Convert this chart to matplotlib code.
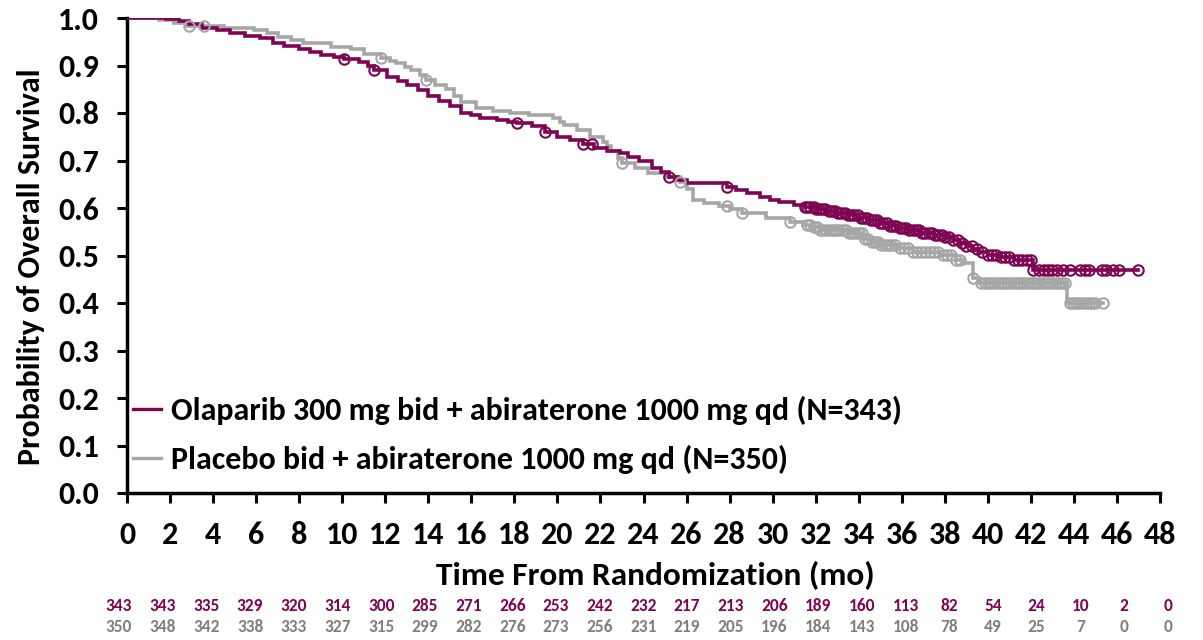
import numpy as np
import matplotlib
matplotlib.use("Agg")
import matplotlib.pyplot as plt

plt.rcParams['font.family'] = ['Carlito', 'Open Sans', 'DejaVu Sans']

# ---------------- data ----------------
ola_label = "Olaparib 300 mg bid + abiraterone 1000 mg qd (N=343)"
pla_label = "Placebo bid + abiraterone 1000 mg qd (N=350)"

ola_t = [0, 1.8, 2.4, 2.9, 3.5, 4.2, 4.8, 5.5, 6.2, 6.8, 7.3, 8.0, 8.5, 9.0, 9.6, 10.1,
         10.8, 11.2, 11.5, 12.1, 12.6, 13.0, 13.5, 14.0, 14.5, 15.0, 15.5, 16.0, 16.4,
         17.2, 17.7, 18.1, 18.8, 19.4, 20.0, 20.6, 21.2, 21.7, 22.3, 22.9, 23.3, 23.8,
         24.4, 24.8, 25.2, 25.6, 26.0, 27.9, 28.3, 28.8, 29.4, 29.9, 30.3, 31.0, 31.5,
         32.0, 32.5, 33.0, 33.5, 34.0, 34.5, 35.0, 35.4, 35.8, 36.3, 36.9, 37.5, 38.0,
         38.4, 38.7, 39.0, 39.3, 39.6, 40.0, 40.5, 41.2, 42.1]
ola_s = [1.0, 0.997, 0.993, 0.988, 0.98, 0.975, 0.968, 0.962, 0.958, 0.948, 0.942, 0.935,
         0.929, 0.922, 0.918, 0.914, 0.907, 0.9, 0.89, 0.876, 0.868, 0.86, 0.848, 0.835,
         0.825, 0.815, 0.80, 0.795, 0.79, 0.785, 0.782, 0.78, 0.772, 0.76, 0.75, 0.743,
         0.735, 0.726, 0.72, 0.715, 0.708, 0.698, 0.684, 0.675, 0.665, 0.658, 0.652,
         0.645, 0.638, 0.632, 0.623, 0.617, 0.612, 0.606, 0.602, 0.598, 0.594, 0.589,
         0.585, 0.58, 0.575, 0.568, 0.563, 0.558, 0.553, 0.547, 0.543, 0.54, 0.533,
         0.527, 0.52, 0.513, 0.507, 0.502, 0.497, 0.49, 0.469]
ola_end = 47.0
ola_cens = [10.1, 11.5, 18.1, 19.4, 21.2, 21.6, 25.2, 27.9,
            31.5, 31.6, 31.75, 31.9, 32.0, 32.15, 32.3, 32.45, 32.6, 32.75, 32.9,
            33.05, 33.2, 33.35, 33.5, 33.65, 33.8, 33.95, 34.1, 34.25, 34.4, 34.55,
            34.7, 34.85, 35.0, 35.15, 35.3, 35.45, 35.6, 35.75, 35.9, 36.05, 36.2,
            36.35, 36.5, 36.65, 36.8, 36.95, 37.1, 37.25, 37.4, 37.55, 37.7, 37.85,
            38.0, 38.2, 38.4, 38.6, 38.8, 39.0, 39.25, 39.5, 39.75, 40.0, 40.2, 40.4,
            40.6, 40.8, 41.0, 41.2, 41.4, 41.6, 41.8, 42.0,
            42.1, 42.4, 42.6, 42.8, 43.0, 43.2, 43.5, 43.8, 44.3, 44.5, 44.7, 45.3,
            45.5, 45.8, 46.1, 47.0]

pla_t = [0, 1.5, 2.2, 2.8, 4.5, 5.9, 6.5, 7.0, 7.6, 8.2, 9.5, 10.4, 11.0, 11.8, 12.2,
         12.5, 12.9, 13.2, 13.6, 13.9, 14.3, 14.8, 15.2, 15.5, 16.2, 17.0, 17.8, 18.7,
         19.8, 20.1, 20.3, 20.9, 21.5, 22.1, 22.3, 22.5, 22.8, 23.0, 23.6, 24.2, 25.0,
         25.7, 26.0, 26.3, 26.8, 27.5, 28.0, 28.6, 29.7, 30.8, 31.4, 31.8, 32.2, 33.5,
         34.2, 34.6, 35.0, 35.8, 36.5, 37.8, 38.5, 38.9, 39.3, 39.6, 43.7]
pla_s = [1.0, 0.995, 0.99, 0.983, 0.978, 0.975, 0.968, 0.96, 0.953, 0.947, 0.94, 0.935,
         0.925, 0.916, 0.91, 0.905, 0.897, 0.89, 0.88, 0.87, 0.86, 0.85, 0.835, 0.823,
         0.81, 0.805, 0.80, 0.795, 0.79, 0.782, 0.775, 0.764, 0.75, 0.739, 0.73, 0.72,
         0.705, 0.695, 0.685, 0.674, 0.665, 0.655, 0.64, 0.617, 0.61, 0.605, 0.598,
         0.59, 0.58, 0.571, 0.565, 0.56, 0.554, 0.547, 0.535, 0.528, 0.522, 0.515,
         0.507, 0.501, 0.49, 0.484, 0.453, 0.442, 0.40]
pla_end = 45.35
pla_cens = [2.9, 3.6, 11.8, 13.9, 23.0, 25.7, 27.9, 28.6, 30.8,
            31.6, 31.75, 31.9, 32.05, 32.2, 32.35, 32.5, 32.65, 32.8, 32.95, 33.1,
            33.25, 33.4, 33.55, 33.7, 33.85, 34.0, 34.15, 34.3, 34.45, 34.6, 34.75,
            34.9, 35.05, 35.2, 35.35, 35.5, 35.7, 35.9, 36.1, 36.3, 36.5, 36.7, 36.9,
            37.1, 37.3, 37.5, 37.7, 37.9, 38.1, 38.3, 38.5, 38.7, 39.3,
            39.7, 39.85, 40.0, 40.15, 40.3, 40.45, 40.6, 40.75, 40.9, 41.05, 41.2,
            41.35, 41.5, 41.65, 41.8, 41.95, 42.1, 42.25, 42.4, 42.55, 42.7, 42.85,
            43.0, 43.15, 43.3, 43.45, 43.6,
            43.8, 43.95, 44.1, 44.25, 44.4, 44.55, 44.7, 44.85, 45.0, 45.35]

risk_ola = [343, 343, 335, 329, 320, 314, 300, 285, 271, 266, 253, 242, 232, 217, 213,
            206, 189, 160, 113, 82, 54, 24, 10, 2, 0]
risk_pla = [350, 348, 342, 338, 333, 327, 315, 299, 282, 276, 273, 256, 231, 219, 205,
            196, 184, 143, 108, 78, 49, 25, 7, 0, 0]

xticks = list(range(0, 49, 2))
yticks = [0.0, 0.1, 0.2, 0.3, 0.4, 0.5, 0.6, 0.7, 0.8, 0.9, 1.0]

C_OLA = "#7D0552"
C_PLA = "#A6A6A6"
C_PLA_TXT = "#7F7F7F"

# ---------------- figure ----------------
W, H = 1203, 640
fig = plt.figure(figsize=(W / 100, H / 100), dpi=100)
ax = fig.add_axes([127 / W, 1 - 493 / H, (1160 - 127) / W, (493 - 18) / H])


def step_at(times, surv, q):
    idx = np.searchsorted(np.asarray(times), np.asarray(q), side='right') - 1
    return np.asarray(surv)[idx]


for t, s, end, cens, col, lab in [
        (pla_t, pla_s, pla_end, pla_cens, C_PLA, pla_label),
        (ola_t, ola_s, ola_end, ola_cens, C_OLA, ola_label)]:
    tt = list(t) + [end]
    ss = list(s) + [s[-1]]
    ax.step(tt, ss, where='post', color=col, lw=2.6, label=lab, zorder=3,
            solid_joinstyle='miter')
    ax.plot(cens, step_at(t, s, cens), ls='none', marker='o', ms=7.5,
            mfc='none', mec=col, mew=1.5, zorder=4)

ax.set_xlim(0, 48)
ax.set_ylim(0, 1.0)
ax.set_xticks(xticks)
ax.set_yticks(yticks)
FS = 23
ax.set_xticklabels([str(v) for v in xticks], fontsize=FS, fontweight='bold')
ax.set_yticklabels([f"{v:.1f}" for v in yticks], fontsize=FS, fontweight='bold')
ax.tick_params(axis='x', length=7, width=2.2, direction='out', pad=13)
ax.tick_params(axis='y', length=7, width=2.2, direction='out', pad=13)
for side in ['top', 'right']:
    ax.spines[side].set_visible(False)
for side in ['left', 'bottom']:
    ax.spines[side].set_linewidth(2.5)

ax.set_xlabel("Time From Randomization (mo)", fontsize=24, fontweight='bold', va='center')
ax.xaxis.set_label_coords(0.511, -0.173)
ax.set_ylabel("Probability of Overall Survival", fontsize=23, fontweight='bold', va='center')
ax.yaxis.set_label_coords(-0.093, 0.476)

handles, labels = ax.get_legend_handles_labels()
leg = ax.legend(handles[::-1], labels[::-1], loc='lower left',
                bbox_to_anchor=(0.0, 0.027), frameon=False,
                prop={'size': FS, 'weight': 'bold'}, handlelength=0.85,
                handletextpad=0.33, labelspacing=0.62, borderaxespad=0.2,
                borderpad=0.0)
for h in leg.get_lines():
    h.set_linewidth(2.4)

# at-risk table
x0, dx = 119 / W, 43.7 / W
for i, (a, b) in enumerate(zip(risk_ola, risk_pla)):
    fig.text(x0 + i * dx, 1 - 606 / H, str(a), ha='center', va='center',
             fontsize=12.5, fontweight='bold', color=C_OLA)
    fig.text(x0 + i * dx, 1 - 627 / H, str(b), ha='center', va='center',
             fontsize=12.5, fontweight='bold', color=C_PLA_TXT)

fig.savefig("out.png", dpi=100)
